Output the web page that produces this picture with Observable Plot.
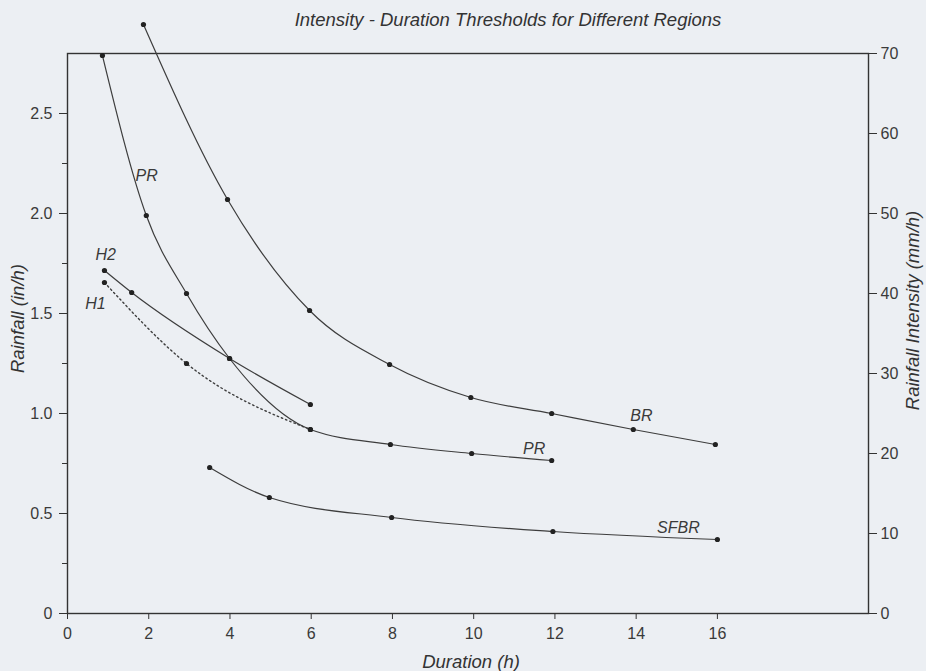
<!DOCTYPE html>
<html>
<head>
<meta charset="utf-8">
<script src="https://cdn.jsdelivr.net/npm/d3@7"></script>
<script src="https://cdn.jsdelivr.net/npm/@observablehq/plot@0.6"></script>
<style>
  html, body { margin: 0; padding: 0; background: #eceff3; }
  #chart { width: 926px; height: 671px; }
</style>
</head>
<body>
<div id="chart"></div>
<script>
// ---- data ----
const brDuration   = [1.87, 3.94, 5.96, 7.93, 9.93, 11.92, 13.93, 15.95];
const brRainfall   = [2.945, 2.07, 1.515, 1.245, 1.08, 1.0, 0.92, 0.845];
const prDuration   = [0.86, 1.94, 2.93, 3.99, 5.98, 7.95, 9.95, 11.92];
const prRainfall   = [2.79, 1.99, 1.6, 1.275, 0.92, 0.845, 0.80, 0.765];
const h2Duration   = [0.91, 1.58, 3.99, 5.98];
const h2Rainfall   = [1.715, 1.605, 1.275, 1.045];
const h1Duration   = [0.91, 2.93, 5.98];
const h1Rainfall   = [1.655, 1.25, 0.92];
const sfbrDuration = [3.5, 4.97, 7.98, 11.95, 16.0];
const sfbrRainfall = [0.73, 0.58, 0.48, 0.41, 0.37];

const curveLabels  = ["PR", "H2", "H1", "BR", "PR", "SFBR"];
const labelX       = [1.95, 0.94, 0.69, 14.13, 11.49, 15.04];
const labelY       = [2.19, 1.795, 1.55, 0.99, 0.825, 0.43];

const durationTicks = [0, 2, 4, 6, 8, 10, 12, 14, 16];
const rainfallTicks = [0, 0.5, 1.0, 1.5, 2.0, 2.5];
const rainfallMinor = [0.25, 0.75, 1.25, 1.75, 2.25];
const intensityTicks = [0, 10, 20, 30, 40, 50, 60, 70];
const mmPerScaleUnit = 25; // right axis: 70 mm/h at 2.8 in/h

const title = "Intensity - Duration Thresholds for Different Regions";
const xTitle = "Duration (h)";
const yTitle = "Rainfall (in/h)";
const y2Title = "Rainfall Intensity (mm/h)";

// ---- build tables ----
const mk = (name, xs, ys) => xs.map((x, i) => ({series: name, x, y: ys[i]}));
const solid = [
  ...mk("BR", brDuration, brRainfall),
  ...mk("PR", prDuration, prRainfall),
  ...mk("H2", h2Duration, h2Rainfall),
  ...mk("SFBR", sfbrDuration, sfbrRainfall)
];
const dotted = mk("H1", h1Duration, h1Rainfall);
const labels = curveLabels.map((t, i) => ({t, x: labelX[i], y: labelY[i]}));

const ink = "#3d3d3d";
const font = "'Liberation Sans', Arial, sans-serif";

const chart = Plot.plot({
  width: 926,
  height: 671,
  marginLeft: 67,
  marginRight: 58,
  marginTop: 53,
  marginBottom: 58,
  style: {fontFamily: font, fontSize: "16px", color: "#3a3a3a", background: "transparent"},
  x: {domain: [0, 19.72]},
  y: {domain: [0, 2.8]},
  marks: [
    Plot.frame({stroke: "#333", strokeWidth: 1.4}),
    Plot.axisX({ticks: durationTicks, tickSize: 6, tickPadding: 8, label: null, fontSize: 16, stroke: "#333"}),
    Plot.axisY({anchor: "left", ticks: rainfallTicks, tickFormat: d => d === 0 ? "0" : d.toFixed(1),
                tickSize: 8, tickPadding: 7, label: null, fontSize: 16, stroke: "#333"}),
    Plot.axisY({anchor: "left", ticks: rainfallMinor, tickFormat: () => "", tickSize: 5, label: null, stroke: "#333"}),
    Plot.axisY({anchor: "right", ticks: intensityTicks.map(v => v / mmPerScaleUnit),
                tickFormat: d => String(Math.round(d * mmPerScaleUnit)),
                tickSize: 8, tickPadding: 4, label: null, fontSize: 16, stroke: "#333"}),
    Plot.line(solid, {x: "x", y: "y", z: "series", curve: "monotone-x", stroke: ink, strokeWidth: 1.2}),
    Plot.line(dotted, {x: "x", y: "y", curve: "monotone-x", stroke: ink, strokeWidth: 1.4, strokeDasharray: "1.5,3"}),
    Plot.dot([...solid, ...dotted], {x: "x", y: "y", r: 2.6, fill: "#222", stroke: "none"}),
    Plot.text(labels, {x: "x", y: "y", text: "t", fontStyle: "italic", fontSize: 16, fill: "#3a3a3a"}),
    Plot.text([title], {frameAnchor: "top", dx: 40, dy: -33, lineAnchor: "middle", textAnchor: "middle",
                        fontStyle: "italic", fontSize: 18.5, fill: "#333"}),
    Plot.text([xTitle], {frameAnchor: "bottom", dx: 3, dy: 49, lineAnchor: "middle", textAnchor: "middle",
                         fontStyle: "italic", fontSize: 18.5, fill: "#333"}),
    Plot.text([yTitle], {frameAnchor: "left", dx: -49, dy: -15, rotate: -90, lineAnchor: "middle", textAnchor: "middle",
                         fontStyle: "italic", fontSize: 18.5, fill: "#333"}),
    Plot.text([y2Title], {frameAnchor: "right", dx: 45, dy: -23, rotate: -90, lineAnchor: "middle", textAnchor: "middle",
                          fontStyle: "italic", fontSize: 18.5, fill: "#333"})
  ]
});
document.getElementById("chart").appendChild(chart);
</script>
</body>
</html>
